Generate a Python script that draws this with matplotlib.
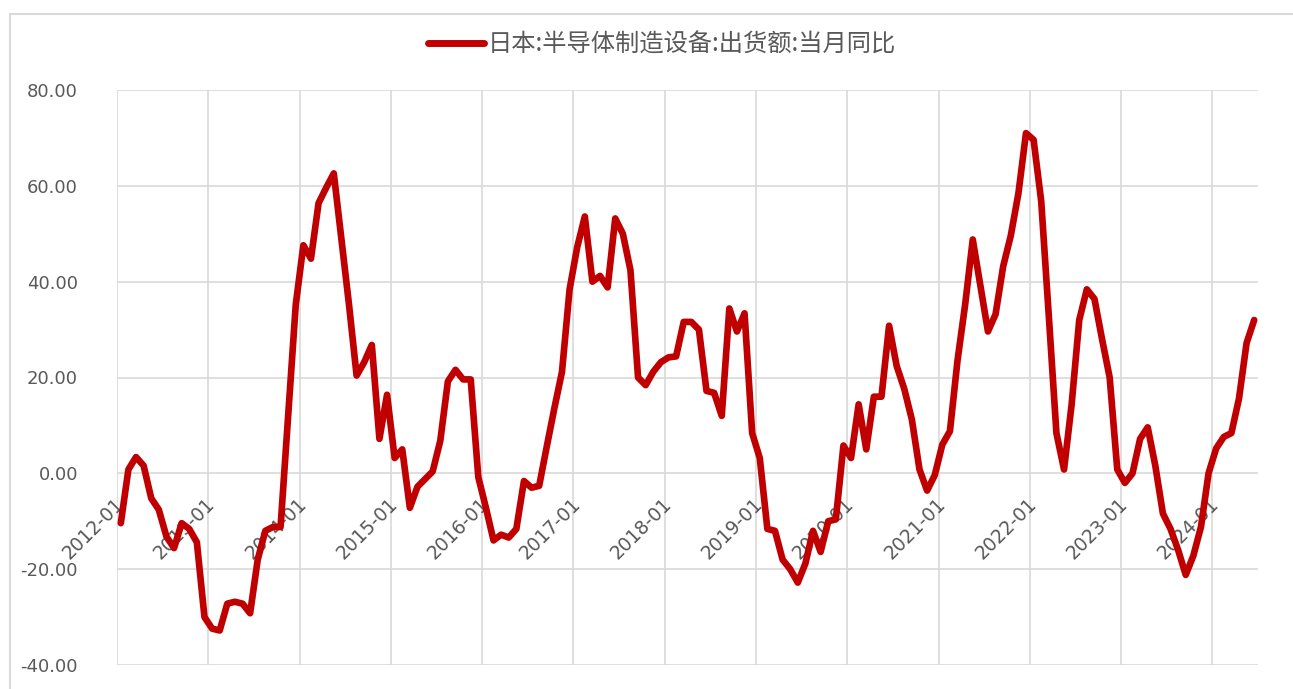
import numpy as np
import matplotlib.pyplot as plt
from matplotlib.patches import Rectangle

plt.rcParams['font.family'] = ['DejaVu Sans']

# 日本:半导体制造设备:出货额:当月同比 (2012-01 ~ 2024-06, 月度)
years = list(range(2012, 2025))
year_labels = [f'{y}-01' for y in years]
series_name = '日本:半导体制造设备:出货额:当月同比'
yoy = [
    -10.4, 0.8, 3.4, 1.6, -5.2, -7.6, -13.2, -15.6, -10.4, -11.6, -14.4, -30.0,   # 2012
    -32.4, -32.8, -27.2, -26.8, -27.2, -29.2, -18.0, -12.0, -11.2, -11.2, 12.0, 35.2,  # 2013
    47.6, 44.8, 56.4, 59.6, 62.6, 48.8, 35.2, 20.4, 23.2, 26.8, 7.2, 16.4,   # 2014
    3.2, 5.0, -7.2, -2.8, -1.2, 0.4, 6.8, 19.2, 21.6, 19.6, 19.6, -0.8,      # 2015
    -7.2, -14.0, -12.8, -13.4, -11.6, -1.6, -3.0, -2.6, 5.6, 13.6, 21.2, 38.4,  # 2016
    47.2, 53.6, 40.0, 41.2, 38.8, 53.2, 50.0, 42.4, 20.0, 18.4, 21.2, 23.2,  # 2017
    24.2, 24.4, 31.6, 31.6, 30.0, 17.2, 16.8, 12.0, 34.4, 29.6, 33.4, 8.4,   # 2018
    3.2, -11.6, -12.0, -18.0, -20.0, -22.8, -18.8, -12.0, -16.4, -10.0, -9.6, 5.8,  # 2019
    3.2, 14.4, 5.0, 16.0, 16.0, 30.8, 22.4, 17.6, 11.2, 0.8, -3.6, -0.4,     # 2020
    6.0, 8.8, 23.6, 35.2, 48.8, 39.2, 29.6, 33.2, 43.2, 49.6, 58.4, 71.0,    # 2021
    69.6, 56.8, 32.8, 8.4, 0.8, 14.4, 32.0, 38.4, 36.4, 28.0, 20.0, 0.8,     # 2022
    -2.0, 0.0, 7.2, 9.6, 1.6, -8.4, -11.6, -16.0, -21.2, -17.2, -11.2, 0.0,  # 2023
    5.2, 7.6, 8.4, 15.6, 27.2, 32.0,                                          # 2024
]

fig = plt.figure(figsize=(12.93, 6.89), dpi=100)
fig.patches.append(Rectangle((10 / 1293, -0.01), 1.0, 1 - 14 / 689 + 0.01,
                             transform=fig.transFigure, fill=False,
                             edgecolor='#D9D9D9', linewidth=1.5))
ax = fig.add_axes([117 / 1293, 1 - 665 / 689, (1258 - 117) / 1293, (665 - 90) / 689])

x = np.arange(len(yoy)) + 0.5
ax.plot(x, yoy, color='#C00000', linewidth=4.8, solid_joinstyle='round',
        solid_capstyle='round', label=series_name, zorder=3)

ax.set_xlim(0, len(yoy))
ax.set_ylim(-40, 80)
ax.set_yticks(np.arange(-40, 81, 20))
ax.set_yticklabels([f'{v:.2f}' for v in np.arange(-40, 81, 20)],
                   fontsize=13, color='#595959')
ax.set_xticks(np.arange(0, len(yoy), 12))
ax.set_xticklabels([])
ax.tick_params(length=0, pad=28)
ax.grid(True, color='#D9D9D9', linewidth=1.2)
for s in ax.spines.values():
    s.set_visible(False)

# 横轴标签在零线处
for k, lab in enumerate(year_labels):
    ax.annotate(lab, xy=(12 * k, 0), xytext=(-2, -15), textcoords='offset points',
                rotation=45, rotation_mode='anchor', ha='right', va='top',
                fontsize=13.5, color='#595959', zorder=2)

leg = fig.legend(loc='center', bbox_to_anchor=(662 / 1293, 1 - 45 / 689), frameon=False,
                 handlelength=2.3, handletextpad=0.15,
                 prop={'family': ['Noto Sans CJK SC', 'DejaVu Sans'], 'size': 17.5})
for t in leg.get_texts():
    t.set_color('#595959')
for h in leg.get_lines():
    h.set_linewidth(5)

fig.savefig('out.png', dpi=100)
